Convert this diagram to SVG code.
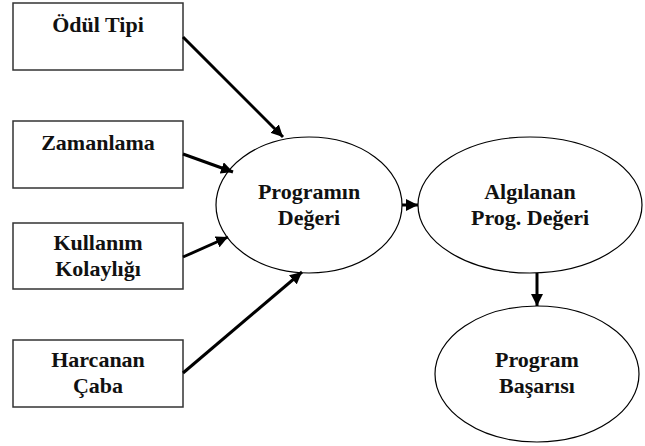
<svg xmlns="http://www.w3.org/2000/svg" width="645" height="446" viewBox="0 0 645 446">
<defs>
<marker id="ah" markerWidth="4" markerHeight="4" refX="4" refY="2" orient="auto" markerUnits="strokeWidth">
<path d="M0,0 L4,2 L0,4 z" fill="#000"/>
</marker>
<style>
.box{fill:#fff;stroke:#333;stroke-width:1.5}
.ell{fill:#fff;stroke:#000;stroke-width:1.2}
.t{font-family:"Times New Roman","Liberation Serif","DejaVu Serif",serif;font-weight:700;font-size:22px;fill:#111;text-anchor:middle}
.c{stroke:#000;stroke-width:3;fill:none;marker-end:url(#ah)}
</style>
</defs>
<rect width="645" height="446" fill="#fff"/>
<g id="odul"><rect class="box" x="13" y="3" width="170" height="67"/><text class="t" x="98" y="32">Ödül Tipi</text></g>
<g id="zamanlama"><rect class="box" x="13" y="121" width="170" height="67"/><text class="t" x="98" y="150">Zamanlama</text></g>
<g id="kullanim"><rect class="box" x="13" y="223" width="170" height="66"/><text class="t" x="98" y="250">Kullanım</text><text class="t" x="98" y="276">Kolaylığı</text></g>
<g id="harcanan"><rect class="box" x="13" y="340" width="170" height="67"/><text class="t" x="98" y="367">Harcanan</text><text class="t" x="98" y="393">Çaba</text></g>
<g id="deger"><ellipse class="ell" cx="309" cy="205" rx="93" ry="68"/><text class="t" x="309" y="199">Programın</text><text class="t" x="309" y="225">Değeri</text></g>
<g id="algilanan"><ellipse class="ell" cx="530" cy="205" rx="112" ry="68"/><text class="t" x="530" y="199">Algılanan</text><text class="t" x="530" y="225">Prog. Değeri</text></g>
<g id="basari"><ellipse class="ell" cx="537" cy="374" rx="102" ry="68"/><text class="t" x="537" y="367">Program</text><text class="t" x="537" y="393">Başarısı</text></g>
<g id="connectors">
<line class="c" x1="183" y1="37" x2="283" y2="137"/>
<line class="c" x1="183" y1="154" x2="233" y2="172"/>
<line class="c" x1="183" y1="257" x2="228" y2="237"/>
<line class="c" x1="183" y1="373" x2="302" y2="272"/>
<line class="c" x1="402" y1="205" x2="418" y2="205"/>
<line class="c" x1="537" y1="273" x2="537" y2="306"/>
</g>
</svg>
